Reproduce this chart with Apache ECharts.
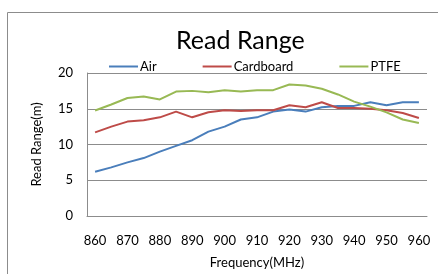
<!DOCTYPE html>
<html>
<head>
<meta charset="utf-8">
<script src="https://cdn.jsdelivr.net/npm/echarts@6/dist/echarts.min.js"></script>
<style>
  html, body { margin: 0; padding: 0; background: #fff; }
  #chart { width: 438px; height: 274px; }
</style>
</head>
<body>
<div id="chart"></div>
<script>
// frequency steps (MHz)
var freqs = ['860', '865', '870', '875', '880', '885', '890', '895', '900', '905', '910',
             '915', '920', '925', '930', '935', '940', '945', '950', '955', '960'];
// read range (m)
var air       = [6.2, 6.8, 7.5, 8.1, 9.0, 9.8, 10.6, 11.8, 12.5, 13.5, 13.8, 14.6, 14.9, 14.6, 15.2, 15.4, 15.4, 15.9, 15.5, 15.9, 15.9];
var cardboard = [11.7, 12.5, 13.2, 13.4, 13.8, 14.6, 13.8, 14.5, 14.8, 14.7, 14.8, 14.8, 15.5, 15.2, 15.9, 15.1, 15.1, 15.0, 14.8, 14.4, 13.7];
var ptfe      = [14.75, 15.6, 16.5, 16.7, 16.3, 17.4, 17.5, 17.3, 17.6, 17.4, 17.6, 17.6, 18.4, 18.25, 17.8, 17.0, 16.0, 15.3, 14.5, 13.5, 13.0];

var chart = echarts.init(document.getElementById('chart'));

var font = 'Lato, "Open Sans", sans-serif';

var option = {
   textStyle: { fontFamily: font },
   // outer chart border
   graphic: [{
      type: 'rect',
      shape: { x: 7.5, y: 12.5, width: 440, height: 280 },
      style: { fill: 'none', stroke: '#8c8c8c', lineWidth: 1 },
      silent: true
   }],
   title: {
      text: 'Read Range',
      left: 171,
      top: 23,
      textStyle: { fontSize: 25, fontWeight: 'normal', color: '#000', fontFamily: font }
   },
   legend: {
      left: 104,
      top: 55,
      icon: 'rect',
      itemWidth: 29,
      itemHeight: 2,
      itemGap: 46,
      textStyle: { fontSize: 13, color: '#000', padding: [0, 0, 0, -3] },
      data: ['Air', 'Cardboard', 'PTFE']
   },
   grid: { left: 87, right: 11, top: 73, bottom: 58 },
   xAxis: {
      type: 'category',
      data: freqs,
      boundaryGap: true,
      name: 'Frequency(MHz)',
      nameLocation: 'middle',
      nameGap: 40,
      nameTextStyle: { fontSize: 13, color: '#000' },
      axisLine: { lineStyle: { color: '#8c8c8c' } },
      axisTick: { show: false },
      axisLabel: { interval: 1, fontSize: 13, color: '#000', margin: 18 }
   },
   yAxis: {
      type: 'value',
      min: 0,
      max: 20,
      interval: 5,
      name: 'Read Range(m)',
      nameLocation: 'middle',
      nameGap: 44,
      nameTextStyle: { fontSize: 13, color: '#000' },
      axisLine: { show: true, lineStyle: { color: '#8c8c8c' } },
      axisTick: { show: false },
      axisLabel: { fontSize: 13, color: '#000', margin: 14 },
      splitLine: { lineStyle: { color: '#8c8c8c' } }
   },
   series: [{
         name: 'Air',
         type: 'line',
         data: air,
         symbol: 'none',
         color: '#4a7ebb',
         lineStyle: { width: 2 }
      },
      {
         name: 'Cardboard',
         type: 'line',
         data: cardboard,
         symbol: 'none',
         color: '#be4b48',
         lineStyle: { width: 2 }
      },
      {
         name: 'PTFE',
         type: 'line',
         data: ptfe,
         symbol: 'none',
         color: '#98b954',
         lineStyle: { width: 2 }
      }
   ]
};

chart.setOption(option);
</script>
</body>
</html>
